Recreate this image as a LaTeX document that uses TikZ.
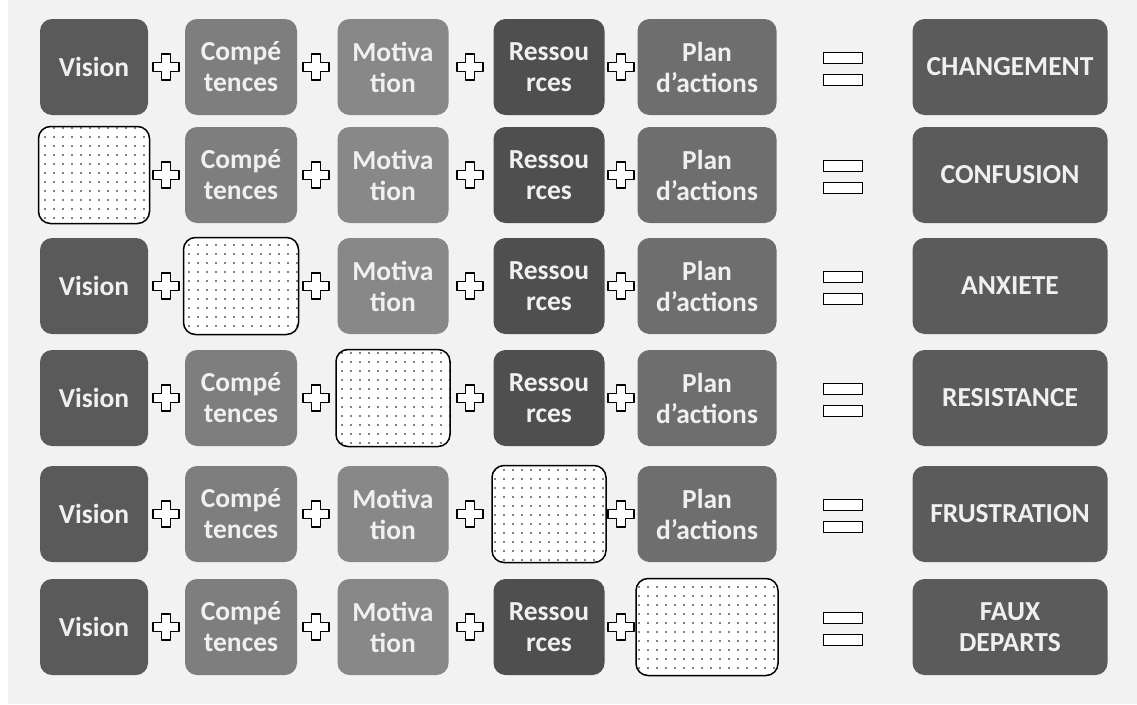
\documentclass[tikz,border=0pt]{standalone}
\usepackage{fontspec}
\setmainfont{Carlito}
\usetikzlibrary{patterns.meta}
\definecolor{bg}{HTML}{F2F2F2}
\definecolor{cvis}{HTML}{5A5A5A}
\definecolor{ccomp}{HTML}{7E7E7E}
\definecolor{cmot}{HTML}{888888}
\definecolor{cress}{HTML}{4F4F4F}
\definecolor{cplan}{HTML}{6E6E6E}
\definecolor{cres}{HTML}{5B5B5B}
\definecolor{boxtext}{HTML}{F0F0F0}
\newcommand\mycell[8]{%
  \ifnum#7=#8\relax
    \node[emptybox, minimum width=#4pt+3pt] (#1) at (#2,#3) {};
  \else
    \node[box, fill=#5, minimum width=#4pt] (#1) at (#2,#3) {#6};
  \fi}
\begin{document}
\begin{tikzpicture}[x=1pt,y=-1pt,
  box/.style={rounded corners=12pt, minimum height=96pt, inner sep=0pt,
    text=boxtext, font=\bfseries\fontsize{27.5}{31}\selectfont, align=center},
  emptybox/.style={rounded corners=12pt, minimum height=97pt, inner sep=0pt,
    draw=black, line width=1.5pt, preaction={fill=white},
    pattern={Dots[distance=9pt,radius=0.9pt]}},
  eqbar/.style={draw=black, line width=1.2pt, fill=white, inner sep=0pt,
    minimum width=39pt, minimum height=11pt},
  pluspic/.pic={\draw[fill=white, line width=1.4pt, line join=round]
    (-4.5,-13)--(4.5,-13)--(4.5,-4.5)--(13,-4.5)--(13,4.5)--(4.5,4.5)
    --(4.5,13)--(-4.5,13)--(-4.5,4.5)--(-13,4.5)--(-13,-4.5)--(-4.5,-4.5)--cycle;}
]
\fill[white] (0,0) rectangle (1137,704);
\fill[bg] (8,0) rectangle (1137,704);
\useasboundingbox (0,0) rectangle (1137,704);
\foreach \yy/\miss/\res [count=\i] in {67/0/CHANGEMENT, 175/1/CONFUSION,
  286/2/ANXIETE, 398/3/RESISTANCE, 514/4/FRUSTRATION, 627/5/{FAUX\\DEPARTS}}{
  \mycell{v\i}{94}{\yy}{108}{cvis}{Vision}{\miss}{1}
  \mycell{c\i}{241}{\yy}{112}{ccomp}{Compé\\tences}{\miss}{2}
  \mycell{m\i}{393}{\yy}{111}{cmot}{Motiva\\tion}{\miss}{3}
  \mycell{r\i}{549}{\yy}{111}{cress}{Ressou\\rces}{\miss}{4}
  \mycell{p\i}{707}{\yy}{139}{cplan}{Plan\\d’actions}{\miss}{5}
  \pic at (166,\yy) {pluspic};
  \pic at (316,\yy) {pluspic};
  \pic at (470,\yy) {pluspic};
  \pic at (621,\yy) {pluspic};
  \node[eqbar] (eqa\i) at (843,\yy-9) {};
  \node[eqbar] (eqb\i) at (843,\yy+13) {};
  \node[box, fill=cres, minimum width=195pt] (res\i) at (1010,\yy) {\res};
}
\end{tikzpicture}
\end{document}
